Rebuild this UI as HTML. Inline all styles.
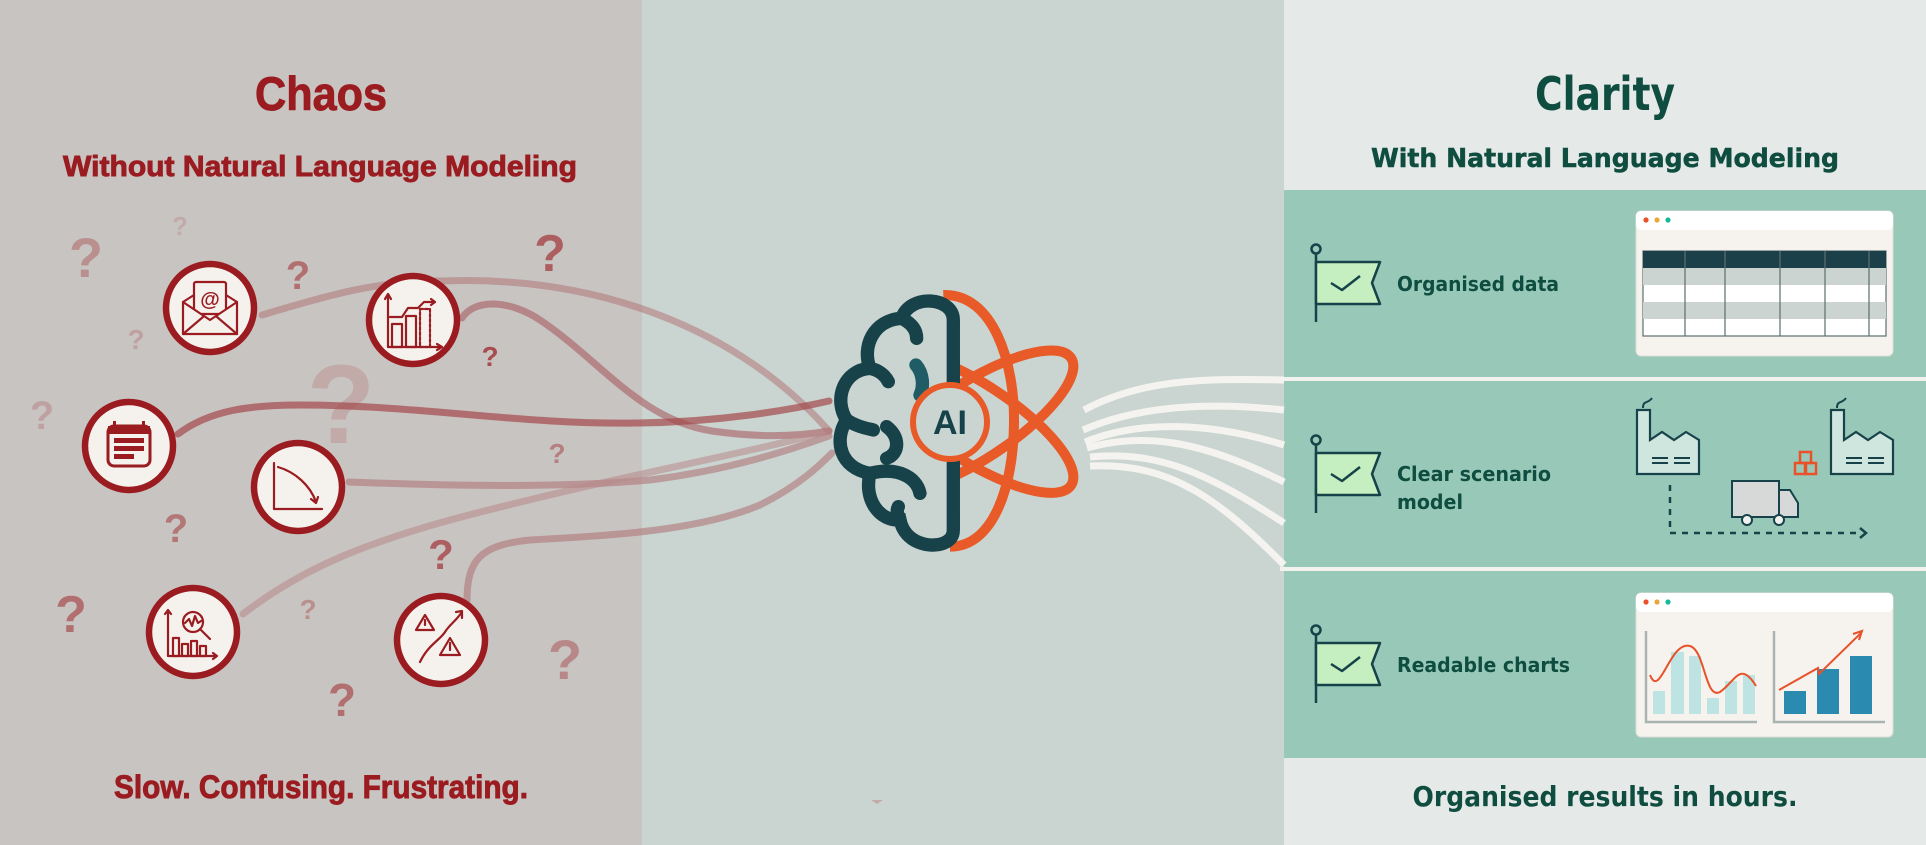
<!DOCTYPE html>
<html><head><meta charset="utf-8"><style>
html,body{margin:0;padding:0;width:1926px;height:845px;overflow:hidden;background:#cad5d1}
svg{display:block}
</style></head><body>
<svg width="1926" height="845" viewBox="0 0 1926 845" xmlns="http://www.w3.org/2000/svg">
<defs>
<clipPath id="rc2"><rect x="955" y="280" width="300" height="300"/></clipPath>
</defs>
<rect x="0" y="0" width="642" height="845" fill="#c8c4c1"/>
<rect x="642" y="0" width="642" height="845" fill="#cad5d1"/>
<rect x="1284" y="0" width="642" height="845" fill="#e5e9e7"/>
<rect x="1284" y="190" width="642" height="187" fill="#98c9b8"/>
<rect x="1284" y="381" width="642" height="186" fill="#98c9b8"/>
<rect x="1284" y="571" width="642" height="187" fill="#98c9b8"/>
<rect x="1280" y="377" width="646" height="4" fill="#f2f2ee"/>
<rect x="1280" y="567" width="646" height="4" fill="#f2f2ee"/>

<g font-family="Liberation Sans, sans-serif" font-weight="bold" fill="#9b1c20" text-anchor="middle">
<text x="86" y="277" font-size="56" opacity="0.3">?</text>
<text x="180" y="235" font-size="26" opacity="0.15">?</text>
<text x="298" y="289" font-size="40" opacity="0.5">?</text>
<text x="550" y="271" font-size="52" opacity="0.6">?</text>
<text x="136" y="349" font-size="28" opacity="0.2">?</text>
<text x="341" y="443" font-size="112" opacity="0.15">?</text>
<text x="42" y="429" font-size="40" opacity="0.2">?</text>
<text x="490" y="366" font-size="28" opacity="0.7">?</text>
<text x="557" y="463" font-size="28" opacity="0.4">?</text>
<text x="176" y="542" font-size="40" opacity="0.45">?</text>
<text x="441" y="569" font-size="42" opacity="0.6">?</text>
<text x="71" y="632" font-size="52" opacity="0.5">?</text>
<text x="308" y="619" font-size="28" opacity="0.3">?</text>
<text x="565" y="679" font-size="56" opacity="0.35">?</text>
<text x="342" y="716" font-size="46" opacity="0.5">?</text>
</g>

<g fill="none" stroke-linecap="round" stroke-width="7">
<path d="M262 315 C330 295 380 280 442 281 C600 275 740 330 829 431" stroke="#b07678" opacity="0.55"/>
<path d="M462 318 C475 298 510 300 540 320 C600 360 640 420 712 431 C760 438 800 436 829 431" stroke="#a85e61" opacity="0.6"/>
<path d="M178 434 C210 410 250 405 300 405 C420 405 520 425 639 423 C720 422 790 410 829 401" stroke="#a4484c" opacity="0.7"/>
<path d="M349 482 C450 486 560 488 650 480 C730 470 790 450 829 436" stroke="#b07678" opacity="0.6"/>
<path d="M243 614 C300 570 360 545 450 520 C600 480 740 455 829 431" stroke="#b8888a" opacity="0.55"/>
<path d="M467 601 C467 560 480 545 530 540 C620 535 700 530 760 505 C800 485 820 465 832 453" stroke="#b07678" opacity="0.6"/>
</g>

<g fill="#f5f2ee" stroke="#9b1c20" stroke-width="6.5">
<circle cx="210" cy="308" r="44"/>
<circle cx="413" cy="320" r="44"/>
<circle cx="129" cy="446" r="44"/>
<circle cx="298" cy="487" r="44"/>
<circle cx="193" cy="632" r="44"/>
<circle cx="441" cy="640" r="44"/>
</g>
<g fill="none" stroke="#9b1c20" stroke-width="2.2" stroke-linejoin="round" stroke-linecap="round">
<!-- email -->
<rect x="194" y="282" width="32" height="32" rx="2"/>
<path d="M183 302 L194 295 M237 302 L226 295"/>
<path d="M183 302 L183 334 L237 334 L237 302 L210 320 Z" fill="#f5f2ee"/>
<path d="M183 334 L203 317 M237 334 L217 317"/>
<!-- chart -->
<path d="M388 295 L388 347 L441 347"/>
<path d="M385 299 L388 294 L391 299 M437 344 L442 347 L437 350"/>
<rect x="392" y="324" width="10" height="23"/>
<rect x="406" y="316" width="10" height="31"/>
<rect x="420" y="309" width="10" height="38" stroke-dasharray="3 2"/>
<path d="M390 317 L402 317 L408 308 L418 308 L424 302 L435 302 M431 299 L435 302 L431 305"/>
<!-- decline -->
<path d="M274 463 L274 509 L322 509"/>
<path d="M278 467 C295 472 310 485 316 502 M311 499 L316 503 L318 497"/>
<!-- search chart -->
<path d="M168 610 L168 656 L216 656 M213 653 L217 656 L213 659 M165 614 L168 610 L171 614"/>
<rect x="173" y="638" width="6" height="18"/><rect x="182" y="644" width="6" height="12"/><rect x="191" y="641" width="6" height="15"/><rect x="200" y="646" width="6" height="10"/>
<circle cx="193" cy="622" r="10" fill="#f5f2ee"/>
<path d="M185 623 L189 619 L192 626 L195 616 L198 623 L201 621 M200 629 L210 639"/>
<!-- warning -->
<path d="M425 615 L434 630 L416 630 Z M425 620 L425 625"/>
<path d="M450 638 L460 655 L440 655 Z M450 643 L450 650"/>
<path d="M420 662 C428 645 440 640 445 632 C450 624 455 622 462 612 M456 612 L462 611 L462 618"/>
</g>
<text x="210" y="306" font-family="Liberation Sans, sans-serif" font-weight="bold" font-size="20" fill="#9b1c20" text-anchor="middle">@</text>
<rect x="108" y="426" width="42" height="40" rx="6" fill="none" stroke="#9b1c20" stroke-width="3"/>
<rect x="108" y="426" width="42" height="8" fill="#9b1c20"/>
<rect x="113" y="421" width="3" height="7" fill="#9b1c20"/><rect x="142" y="421" width="3" height="7" fill="#9b1c20"/>
<rect x="114" y="438" width="30" height="5" fill="#9b1c20"/>
<rect x="114" y="446" width="30" height="5" fill="#9b1c20"/>
<rect x="114" y="454" width="20" height="5" fill="#9b1c20"/>

<g font-family="Liberation Sans, sans-serif" font-weight="bold" fill="#9b1c20" stroke="#9b1c20" stroke-width="0.9">
<text x="255" y="110" font-size="47" textLength="132" lengthAdjust="spacingAndGlyphs">Chaos</text>
<text x="63" y="176" font-size="29" textLength="514" lengthAdjust="spacingAndGlyphs">Without Natural Language Modeling</text>
<text x="114" y="798" font-size="32" textLength="414" lengthAdjust="spacingAndGlyphs">Slow. Confusing. Frustrating.</text>
</g>

<g fill="none" stroke="#f5f3ef" stroke-width="7">
<path d="M1084 410 C1140 380 1200 378 1284 380"/>
<path d="M1083 430 C1140 405 1210 402 1284 410"/>
<path d="M1085 442 C1140 420 1210 422 1284 445"/>
<path d="M1087 448 C1150 430 1210 445 1284 482"/>
<path d="M1090 457 C1160 450 1210 475 1284 523"/>
<path d="M1090 466 C1170 462 1220 500 1284 565"/>
</g>
<path d="M871 800 L877 804 L883 800" fill="#c1aaa8"/>

<g transform="translate(820,280) scale(0.3333)" fill="none" stroke="#e85a27" stroke-width="30">
<path d="M370 45 C520 40 585 250 582 430 C580 620 520 800 390 800"/>
</g>
<g clip-path="url(#rc2)">
<g transform="translate(820,280) scale(0.3333)" fill="none" stroke="#e85a27" stroke-width="30">
<ellipse cx="460" cy="425" rx="350" ry="115" transform="rotate(-33 460 425)"/>
<ellipse cx="460" cy="425" rx="350" ry="115" transform="rotate(33 460 425)"/>
</g>
</g>
<g transform="translate(820,280) scale(0.3333)" fill="none" stroke="#174249" stroke-width="40" stroke-linecap="round">
<path d="M400 750 L400 120 C400 50 270 40 245 115 C160 120 125 200 150 265 C70 270 40 360 80 420 C40 480 60 565 150 580 C130 660 180 725 240 720 C255 790 330 805 370 790 C395 780 400 765 400 750"/>
<path d="M245 115 C275 130 290 150 290 175"/>
<path d="M150 265 C175 270 195 285 205 305"/>
<path d="M80 420 C110 440 140 445 160 450"/>
<path d="M200 440 C240 470 240 520 200 535"/>
<path d="M150 580 C230 560 290 590 300 640"/>
<path d="M240 720 C230 700 230 690 235 680"/>
<path d="M288 255 C310 280 312 320 300 345" stroke="#1f5c66"/>
</g>
<circle cx="950" cy="422" r="37" fill="#cad5d1" stroke="#e85a27" stroke-width="6"/>
<text x="950" y="434" font-family="Liberation Sans, sans-serif" font-weight="bold" font-size="34" fill="#174249" text-anchor="middle">AI</text>

<g font-family="DejaVu Sans, sans-serif" font-weight="bold" fill="#0e4d3f">
<text x="1605" y="110" font-size="46" text-anchor="middle" textLength="140" lengthAdjust="spacingAndGlyphs">Clarity</text>
<text x="1605" y="167" font-size="26" text-anchor="middle" textLength="468" lengthAdjust="spacingAndGlyphs" stroke="#0e4d3f" stroke-width="0.5">With Natural Language Modeling</text>
<text x="1605" y="806" font-size="28" text-anchor="middle" textLength="385" lengthAdjust="spacingAndGlyphs">Organised results in hours.</text>
<text x="1397" y="291" font-size="20" textLength="162" lengthAdjust="spacingAndGlyphs">Organised data</text>
<text x="1397" y="481" font-size="20" textLength="154" lengthAdjust="spacingAndGlyphs">Clear scenario</text>
<text x="1397" y="509" font-size="20" textLength="66" lengthAdjust="spacingAndGlyphs">model</text>
<text x="1397" y="672" font-size="20" textLength="173" lengthAdjust="spacingAndGlyphs">Readable charts</text>
</g>

<g id="flag" fill="none" stroke="#174249" stroke-width="2.5" stroke-linejoin="round">
<path d="M1316 254 L1316 322"/>
<circle cx="1316" cy="249" r="4.5" fill="#98c9b8"/>
<path d="M1316 262 L1380 262 L1372 283 L1380 304 L1316 304 Z" fill="#c5efc0"/>
<path d="M1331 283 L1342 290 L1360 276"/>
</g>
<use href="#flag" transform="translate(0,191)"/>
<use href="#flag" transform="translate(0,381)"/>

<rect x="1636" y="211" width="257" height="145" rx="5" fill="#f6f3ee" stroke="#dcdcd6" stroke-width="1"/>
<rect x="1636" y="211" width="257" height="19" rx="5" fill="#ffffff"/>
<circle cx="1646" cy="220" r="2.6" fill="#e8512a"/><circle cx="1657" cy="220" r="2.6" fill="#e8a83a"/><circle cx="1668" cy="220" r="2.6" fill="#18b89a"/>
<rect x="1643" y="251" width="243" height="85" fill="#ffffff" stroke="#5c6e70" stroke-width="1.2"/>
<rect x="1643" y="251" width="243" height="17" fill="#1b4049"/>
<rect x="1643" y="268" width="243" height="17" fill="#cbd4d1"/>
<rect x="1643" y="302" width="243" height="17" fill="#cbd4d1"/>
<g stroke="#5c6e70" stroke-width="1.2"><path d="M1685 251V336M1725 251V336M1780 251V336M1825 251V336M1869 251V336"/></g>

<g fill="#cfe6df" stroke="#174249" stroke-width="2.2">
<path d="M1637 474 L1637 410 L1650 410 L1650 440 L1662 432 L1674 440 L1686 432 L1699 440 L1699 474 Z"/>
<path d="M1831 474 L1831 410 L1844 410 L1844 440 L1856 432 L1868 440 L1880 432 L1893 440 L1893 474 Z"/>
</g>
<g fill="none" stroke="#174249" stroke-width="2">
<path d="M1643 408 C1643 400 1648 404 1652 398"/>
<path d="M1837 408 C1837 400 1842 404 1846 398"/>
<path d="M1652 458 H1668 M1652 463 H1668 M1674 458 H1690 M1674 463 H1690"/>
<path d="M1846 458 H1862 M1846 463 H1862 M1868 458 H1884 M1868 463 H1884"/>
</g>
<g fill="none" stroke="#e8512a" stroke-width="2.5">
<rect x="1795" y="463" width="10" height="11"/><rect x="1806" y="463" width="10" height="11"/><rect x="1800" y="452" width="11" height="11"/>
</g>
<g stroke="#174249" stroke-width="2">
<rect x="1732" y="481" width="47" height="36" fill="#d6d9d7"/>
<path d="M1779 490 L1790 490 L1798 503 L1798 517 L1779 517 Z" fill="#d6d9d7"/>
<circle cx="1747" cy="520" r="5" fill="#f0f0ee"/><circle cx="1779" cy="520" r="5" fill="#f0f0ee"/>
</g>
<path d="M1670 485 L1670 533 L1862 533" fill="none" stroke="#174249" stroke-width="2.5" stroke-dasharray="6 6"/>
<path d="M1860 528 L1866 533 L1860 538" fill="none" stroke="#174249" stroke-width="2.5"/>

<rect x="1636" y="593" width="257" height="144" rx="5" fill="#f6f3ee" stroke="#dcdcd6" stroke-width="1"/>
<rect x="1636" y="593" width="257" height="19" rx="5" fill="#ffffff"/>
<circle cx="1646" cy="602" r="2.6" fill="#e8512a"/><circle cx="1657" cy="602" r="2.6" fill="#e8a83a"/><circle cx="1668" cy="602" r="2.6" fill="#18b89a"/>
<g fill="#bde3e3">
<rect x="1653" y="691" width="12" height="23"/><rect x="1671" y="652" width="13" height="62"/><rect x="1689" y="656" width="12" height="58"/><rect x="1707" y="698" width="12" height="16"/><rect x="1725" y="681" width="12" height="33"/><rect x="1743" y="675" width="12" height="39"/>
</g>
<path d="M1646 631 L1646 722 L1757 722" fill="none" stroke="#a9b3b1" stroke-width="2.5"/>
<path d="M1650 675 C1660 700 1670 640 1690 646 C1705 650 1705 700 1720 692 C1735 682 1740 660 1756 686" fill="none" stroke="#e8512a" stroke-width="2"/>
<g fill="#2a8ab0"><rect x="1784" y="691" width="22" height="23"/><rect x="1817" y="669" width="22" height="45"/><rect x="1850" y="656" width="22" height="58"/></g>
<path d="M1774 631 L1774 722 L1885 722" fill="none" stroke="#a9b3b1" stroke-width="2.5"/>
<path d="M1779 690 L1818 668 L1819 674 L1861 633 M1853 634 L1862 631 L1859 640" fill="none" stroke="#e8512a" stroke-width="2"/>
</svg>
</body></html>
